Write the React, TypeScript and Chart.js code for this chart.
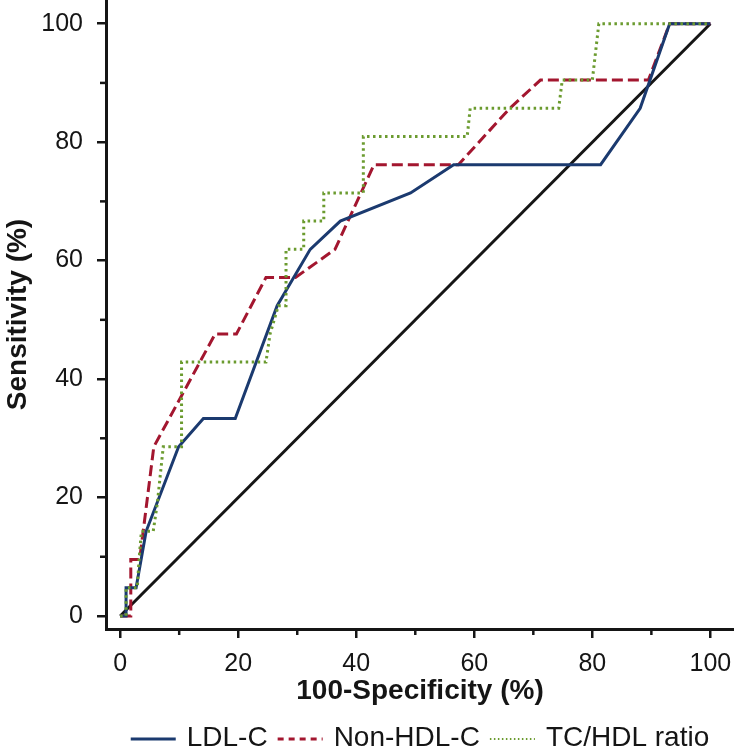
import React, { useEffect, useRef } from "react";
import { Chart, registerables } from "chart.js";

Chart.register(...registerables);

// ---- data ----
const xTicks = [0, 20, 40, 60, 80, 100];
const yTicks = [0, 20, 40, 60, 80, 100];
const minorTicks = [10, 30, 50, 70, 90];

const seriesNames = ["LDL-C", "Non-HDL-C", "TC/HDL ratio"];

const diagX = [0, 100];
const diagY = [0, 100];

const ldlX = [0, 1.0, 1.0, 2.7, 4.4, 9.9, 14.1, 19.5, 26.6, 32.2, 37.3, 49.2, 56.5, 81.4, 88.1, 93.1, 100];
const ldlY = [0, 0, 4.76, 4.76, 14.29, 28.57, 33.33, 33.33, 52.38, 61.9, 66.67, 71.43, 76.19, 76.19, 85.71, 100, 100];

const nonHdlX = [0, 1.8, 1.8, 3.3, 5.7, 16.1, 19.7, 24.7, 29.7, 36.4, 43.0, 57.3, 66.0, 71.2, 89.5, 93.1, 100];
const nonHdlY = [0, 0, 9.52, 9.52, 28.57, 47.62, 47.62, 57.14, 57.14, 61.9, 76.19, 76.19, 85.71, 90.48, 90.48, 100, 100];

const tcHdlX = [0, 1.0, 1.0, 2.9, 3.2, 3.6, 5.6, 6.3, 6.8, 7.3, 10.4, 10.4, 24.7, 25.4, 26.8, 28.1, 28.1, 31.1, 31.1, 34.5, 34.5, 41.2, 41.2, 58.8, 59.3, 74.3, 74.9, 80.0, 81.1, 100];
const tcHdlY = [0, 0, 4.76, 4.76, 9.52, 14.29, 14.29, 19.05, 23.81, 28.57, 28.57, 42.86, 42.86, 47.62, 52.38, 52.38, 61.9, 61.9, 66.67, 66.67, 71.43, 71.43, 80.95, 80.95, 85.71, 85.71, 90.48, 90.48, 100, 100];

const FONT = "'Liberation Sans', Arial, Helvetica, sans-serif";
const INK = "#151515";

const toPts = (xs: number[], ys: number[]) => xs.map((x, i) => ({ x, y: ys[i] }));

const minorTickPlugin = {
  id: "minorTicks",
  afterDraw(chart: any) {
    const { ctx, chartArea, scales } = chart;
    ctx.save();
    ctx.strokeStyle = INK;
    ctx.lineWidth = 2.5;
    for (const v of minorTicks) {
      const px = scales.x.getPixelForValue(v);
      ctx.beginPath();
      ctx.moveTo(px, chartArea.bottom);
      ctx.lineTo(px, chartArea.bottom + 6);
      ctx.stroke();
      const py = scales.y.getPixelForValue(v);
      ctx.beginPath();
      ctx.moveTo(chartArea.left, py);
      ctx.lineTo(chartArea.left - 6, py);
      ctx.stroke();
    }
    ctx.restore();
  },
};

const legendPlugin = {
  id: "bottomLegend",
  afterDraw(chart: any) {
    const { ctx, chartArea } = chart;
    const items = chart.data.datasets.filter((d: any) => d.showInLegend);
    ctx.save();
    ctx.font = `28px ${FONT}`;
    const lineW = 45;
    const gapText = 11;
    const gapItem = 10;
    const widths = items.map((d: any) => lineW + gapText + ctx.measureText(d.label).width);
    const total = widths.reduce((a: number, b: number) => a + b, 0) + gapItem * (items.length - 1);
    let x = (chartArea.left + chartArea.right) / 2 - total / 2;
    const y = 739;
    items.forEach((d: any, i: number) => {
      ctx.strokeStyle = d.borderColor;
      ctx.lineWidth = d.legendLineWidth;
      ctx.setLineDash(d.legendDash);
      ctx.beginPath();
      ctx.moveTo(x, y);
      ctx.lineTo(x + lineW, y);
      ctx.stroke();
      ctx.setLineDash([]);
      ctx.fillStyle = INK;
      ctx.textBaseline = "middle";
      ctx.textAlign = "left";
      ctx.fillText(d.label, x + lineW + gapText, y - 1);
      x += widths[i] + gapItem;
    });
    ctx.restore();
  },
};

export default function App() {
  const canvasRef = useRef<HTMLCanvasElement | null>(null);

  useEffect(() => {
    const canvas = canvasRef.current;
    if (!canvas) return;
    const axisCommon = {
      type: "linear" as const,
      grid: {
        display: true,
        drawOnChartArea: false,
        drawTicks: true,
        tickLength: 9,
        color: INK,
        lineWidth: 2.5,
      },
      border: { display: true, color: INK, width: 3 },
    };
    const chart = new Chart(canvas, {
      type: "scatter",
      data: {
        datasets: [
          {
            label: seriesNames[0],
            data: toPts(ldlX, ldlY),
            borderColor: "#1b3a6f",
            borderWidth: 3,
            showLine: true,
            pointRadius: 0,
            order: 1,
            showInLegend: true,
            legendDash: [],
            legendLineWidth: 3,
          } as any,
          {
            label: seriesNames[1],
            data: toPts(nonHdlX, nonHdlY),
            borderColor: "#a3162f",
            borderWidth: 3,
            borderDash: [11, 5],
            showLine: true,
            pointRadius: 0,
            order: 2,
            showInLegend: true,
            legendDash: [6, 5],
            legendLineWidth: 3,
          } as any,
          {
            label: seriesNames[2],
            data: toPts(tcHdlX, tcHdlY),
            borderColor: "#6b9b2f",
            borderWidth: 3,
            borderDash: [2.5, 3.5],
            showLine: true,
            pointRadius: 0,
            order: 0,
            showInLegend: true,
            legendDash: [1.5, 2.5],
            legendLineWidth: 2,
          } as any,
          {
            label: "Reference",
            data: toPts(diagX, diagY),
            borderColor: INK,
            borderWidth: 3,
            showLine: true,
            pointRadius: 0,
            order: 3,
            showInLegend: false,
          } as any,
        ],
      },
      options: {
        animation: false,
        responsive: false,
        devicePixelRatio: 1,
        layout: { padding: 0 },
        plugins: { legend: { display: false }, tooltip: { enabled: false } },
        scales: {
          x: {
            ...axisCommon,
            position: "bottom",
            min: -2.4,
            max: 104,
            afterBuildTicks: (s: any) => {
              s.ticks = xTicks.map((v) => ({ value: v }));
            },
            afterFit: (s: any) => {
              s.height = 125;
              s.paddingLeft = 0;
              s.paddingRight = 0;
            },
            ticks: {
              font: { size: 25, family: FONT },
              color: INK,
              padding: 11,
              maxRotation: 0,
              autoSkip: false,
            },
            title: {
              display: true,
              text: "100-Specificity (%)",
              font: { size: 28, weight: "bold", family: FONT },
              color: INK,
              padding: { top: 0, bottom: 46 },
            },
          },
          y: {
            ...axisCommon,
            position: "left",
            min: -2.2,
            max: 104,
            afterBuildTicks: (s: any) => {
              s.ticks = yTicks.map((v) => ({ value: v }));
            },
            afterFit: (s: any) => {
              s.width = 106;
              s.paddingTop = 0;
              s.paddingBottom = 0;
            },
            ticks: {
              font: { size: 25, family: FONT },
              color: INK,
              padding: 14,
              autoSkip: false,
            },
            title: {
              display: true,
              text: "Sensitivity (%)",
              font: { size: 28, weight: "bold", family: FONT },
              color: INK,
              padding: { top: 1, bottom: 0 },
            },
          },
        },
      } as any,
      plugins: [minorTickPlugin, legendPlugin],
    });
    return () => chart.destroy();
  }, []);

  return (
    <div style={{ position: "absolute", left: 0, top: 0, width: 734, height: 754 }}>
      <canvas ref={canvasRef} width={734} height={754} style={{ display: "block" }} />
    </div>
  );
}
